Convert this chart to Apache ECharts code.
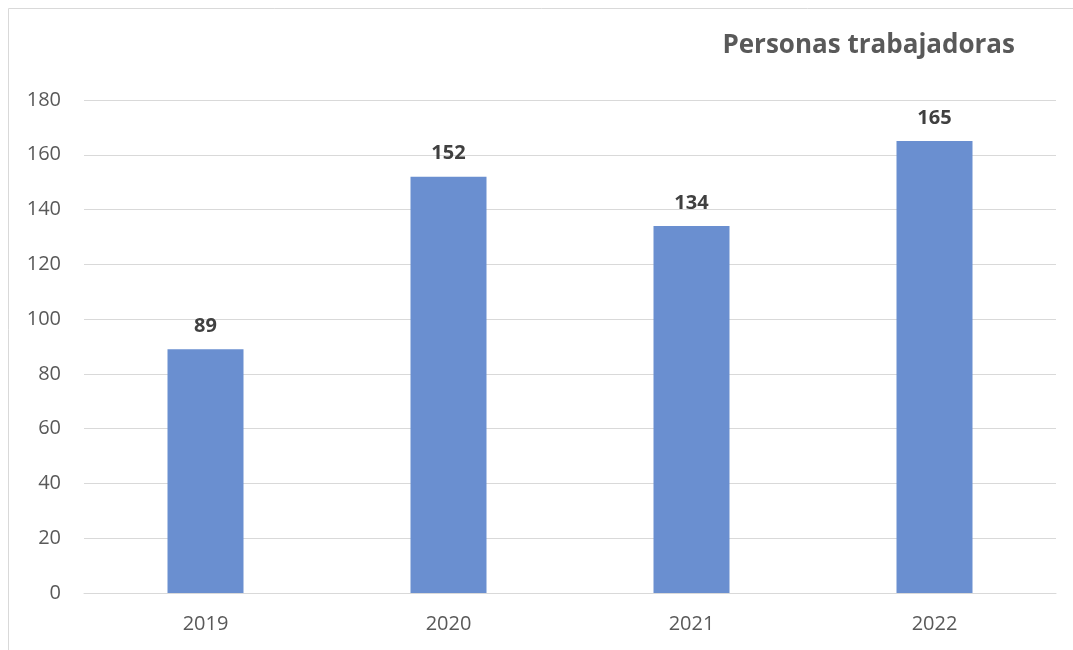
<!DOCTYPE html>
<html>
<head>
<meta charset="utf-8">
<script src="https://cdn.jsdelivr.net/npm/echarts@6/dist/echarts.min.js"></script>
<style>
  html, body { margin: 0; padding: 0; background: #fff; }
  #chart { width: 1073px; height: 650px; }
</style>
</head>
<body>
<div id="chart"></div>
<script>
// datos del gráfico
const years = ['2019', '2020', '2021', '2022']
const workers = [89, 152, 134, 165]
const yTicks = [0, 20, 40, 60, 80, 100, 120, 140, 160, 180]

const chart = echarts.init(document.getElementById('chart'))

const option = {
  animation: false,
  textStyle: { fontFamily: 'Open Sans, Noto Sans, sans-serif' },
  title: {
    text: 'Personas trabajadoras',
    right: 53,
    top: 28,
    textStyle: { fontSize: 26, fontWeight: 'bold', color: '#595959' }
  },
  graphic: [
    {
      type: 'polyline',
      silent: true,
      shape: { points: [[8.5, 660], [8.5, 8.5], [1080, 8.5]] },
      style: { stroke: '#d9d9d9', lineWidth: 1, fill: null }
    }
  ],
  grid: { left: 84, right: 17, top: 100, bottom: 57 },
  xAxis: {
    type: 'category',
    data: years,
    axisLine: { lineStyle: { color: '#d9d9d9', width: 1 } },
    axisTick: { show: false },
    axisLabel: { color: '#595959', fontSize: 20, margin: 21 }
  },
  yAxis: {
    type: 'value',
    min: yTicks[0],
    max: yTicks[yTicks.length - 1],
    interval: 20,
    axisLine: { show: false },
    axisTick: { show: false },
    splitLine: { lineStyle: { color: '#d9d9d9', width: 1 } },
    axisLabel: { color: '#595959', fontSize: 20, margin: 23 }
  },
  series: [
    {
      type: 'bar',
      data: workers,
      barWidth: 76,
      itemStyle: { color: '#6a8fd0' },
      label: {
        show: true,
        position: 'top',
        distance: 13,
        color: '#404040',
        fontSize: 20,
        fontWeight: 'bold'
      }
    }
  ]
}

chart.setOption(option)
</script>
</body>
</html>
